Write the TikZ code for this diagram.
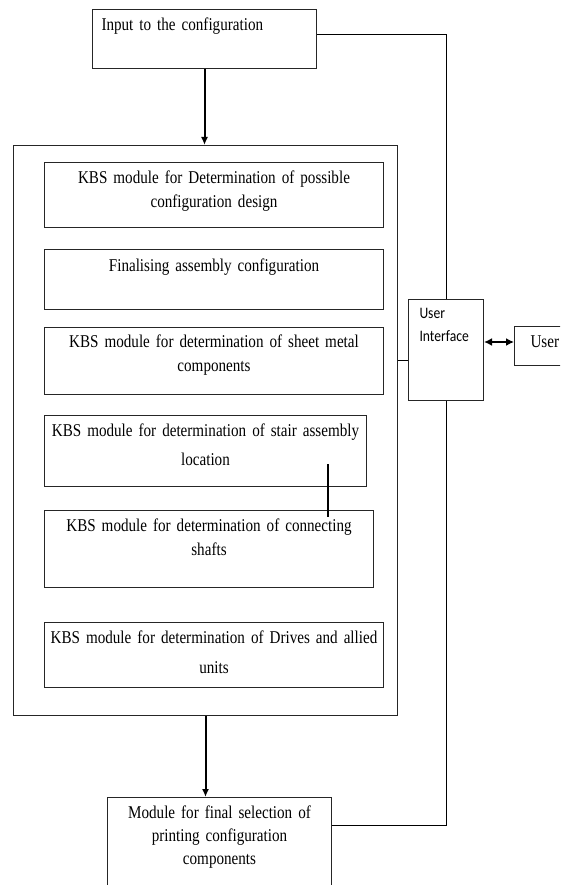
\documentclass[tikz,border=0pt]{standalone}
\usepackage{fontspec}
\setmainfont[FakeStretch=0.84]{Liberation Serif}
\newfontfamily\uifont[FakeStretch=0.85]{Carlito}
\usetikzlibrary{arrows.meta, positioning}
\newcommand\modfont{\fontsize{18}{24}\selectfont\spaceskip=3.2pt plus 1pt minus 1pt\relax}

\begin{document}
\begin{tikzpicture}[x=1pt, y=-1pt,
        box/.style={draw=black!85, line width=1pt, anchor=north west, inner xsep=4pt, inner ysep=0pt, text height=10pt, font=\modfont},
        module/.style={box, align=center, text width=331pt},
        line/.style={draw=black, line width=1pt},
        flow/.style={draw=black, line width=2pt, -{Latex[length=8pt,width=7pt]}}
    ]
        \useasboundingbox (0,0) rectangle (560,885);
        \clip (0,0) rectangle (560,885);

        \node [box, align=left, inner xsep=9pt, text width=206pt, minimum height=59pt, text depth=27pt] (input) at (92,9) {Input to the configuration};
        \node [box, minimum width=384pt, minimum height=570pt] (kbs) at (13,145) {};

        % modules inside the KBS frame
        \node [module, minimum height=65pt, text depth=33pt] (possible) at (44,162) {KBS module for Determination of possible\\configuration design};
        \node [module, minimum height=60pt, text depth=26pt, below right=21pt and 0pt of possible.south west] (assembly) {Finalising assembly configuration};
        \node [module, minimum height=67pt, text depth=37pt, below right=17pt and 0pt of assembly.south west] (sheet) {KBS module for determination of sheet metal\\components};
        \node [module, text width=314pt, minimum height=71pt, text depth=39pt, below right=20pt and 0pt of sheet.south west] (stair) {KBS module for determination of stair assembly\\[5pt]location};
        \node [module, text width=321pt, minimum height=77pt, text depth=45pt, below right=23pt and 0pt of stair.south west] (shafts) {KBS module for determination of connecting\\shafts};
        \node [module, minimum height=65pt, text depth=33pt, below right=34pt and 0pt of shafts.south west] (drives) {KBS module for determination of Drives and allied\\[6pt]units};

        \node [box, align=center, text width=216pt, minimum height=103pt, text depth=71pt] (final) at (107,797) {Module for final selection of\\[-1pt]printing configuration\\[-1pt]components};

        \node [box, font=\uifont\fontsize{16}{23}\selectfont, align=left, inner xsep=11pt, text width=53pt, minimum height=101pt, text depth=73pt] (ui) at (408,299) {User\\Interface};
        \node [box, align=left, inner xsep=16pt, text width=54pt, minimum height=39pt, text depth=7pt] (user) at (514,326) {User};

        \coordinate (ui link) at ([yshift=-10pt]ui.west);
        \coordinate (user link) at ([yshift=4pt]user.west);
        \coordinate (tick top) at (328,464);
        \coordinate (tick bottom) at (328,517);

        \path [flow] (input) -- (input |- kbs.north);
        \path [flow] (kbs) -- (kbs.south |- final.north);
        \path [line] ([yshift=4pt]input.east) -| (ui.north);
        \path [line] (ui.south) |- ([yshift=-28pt]final.north east);
        \path [line] (ui link) -- (ui link -| kbs.east);
        \path [line, line width=2pt, {Latex[length=8pt,width=8pt]}-{Latex[length=8pt,width=8pt]}] (user link -| ui.east) -- (user link);
        \path [line, line width=1.6pt] (tick top) -- (tick bottom);
    \end{tikzpicture}
\end{document}
